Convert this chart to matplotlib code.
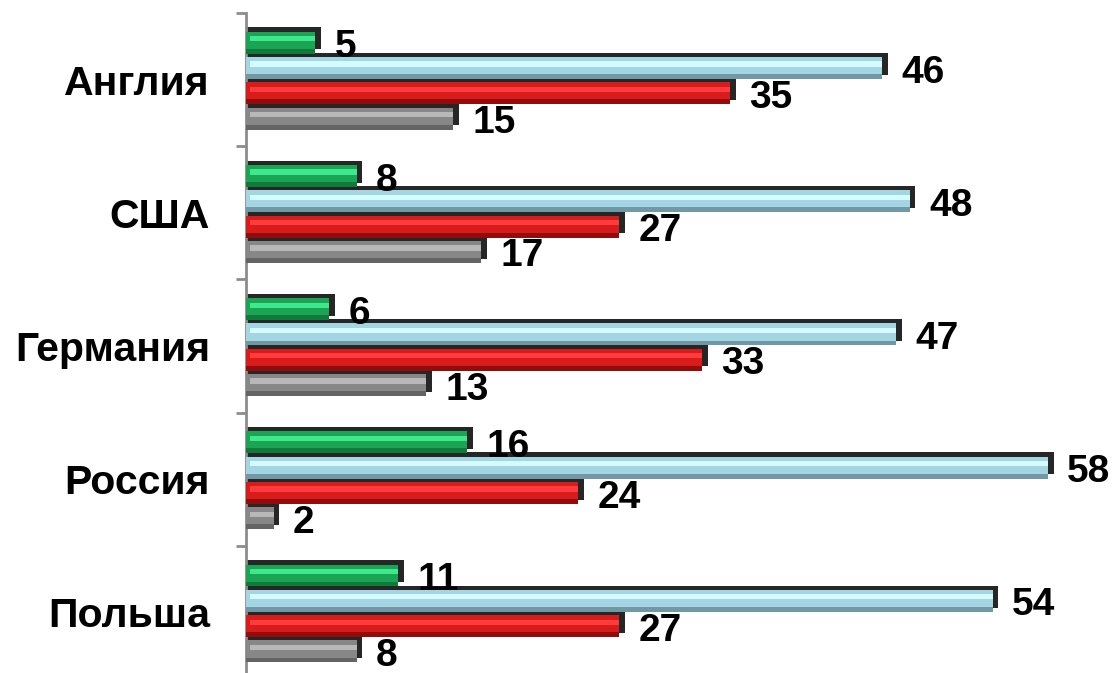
import numpy as np
import matplotlib
matplotlib.use("Agg")
import matplotlib.pyplot as plt

plt.rcParams['font.family'] = ['Liberation Sans', 'DejaVu Sans']

countries = ["Англия", "США", "Германия", "Россия", "Польша"]
green = [5, 8, 6, 16, 11]
blue = [46, 48, 47, 58, 54]
red = [35, 27, 33, 24, 27]
gray = [15, 17, 13, 2, 8]

series = [green, blue, red, gray]
# face, highlight, dark bottom
palettes = [
    ("#1aa453", "#3ee88c", "#0f7a3a"),
    ("#a3d6e2", "#d4fbff", "#7099a5"),
    ("#d81c1c", "#ff3b3b", "#930c0c"),
    ("#878787", "#b8b8b8", "#646464"),
]
shadow_col = "#262626"

fig = plt.figure(figsize=(11.19, 6.73), dpi=100)
ax = fig.add_axes([246 / 1119, (673 - 679) / 673, 871 / 1119, 666 / 673])

pitch = 0.19
face_h = 0.165
depth_y = 0.032
depth_x = 0.42
offsets = (np.arange(4) - 1.5) * pitch + 0.008

y = np.arange(len(countries))
for s, vals in enumerate(series):
    face, hi, dark = palettes[s]
    yc = y + offsets[s]
    vals = np.array(vals)
    # depth / shadow
    ax.barh(yc - depth_y, vals + depth_x, height=face_h, color=shadow_col, zorder=2)
    # front face
    ax.barh(yc, vals, height=face_h, color=face, zorder=3)
    # highlight stripe
    ax.barh(yc - face_h * 0.18, vals - 0.3, left=0.3, height=face_h * 0.24, color=hi, zorder=4)
    # dark lower part
    ax.barh(yc + face_h * 0.39, vals, height=face_h * 0.22, color=dark, zorder=4)
    for yy, v in zip(yc, vals):
        ax.text(v + 1.4, yy + 0.035, str(v), ha="left", va="center",
                fontsize=28, fontweight="bold", color="black", zorder=5)

ax.set_xlim(0, 63)
ax.set_ylim(4.5, -0.5)
ax.set_yticks(y)
ax.set_yticklabels(countries, fontsize=29.5, fontweight="bold")
ax.set_yticks(np.arange(-0.5, 5, 1), minor=True)
ax.tick_params(axis="y", which="major", length=0, pad=26)
ax.tick_params(axis="y", which="minor", length=7, width=2, color="#8c8c8c")
ax.set_xticks([])
for side in ["top", "right", "bottom"]:
    ax.spines[side].set_visible(False)
ax.spines["left"].set_color("#8c8c8c")
ax.spines["left"].set_linewidth(2)

fig.savefig("out.png", dpi=100)
